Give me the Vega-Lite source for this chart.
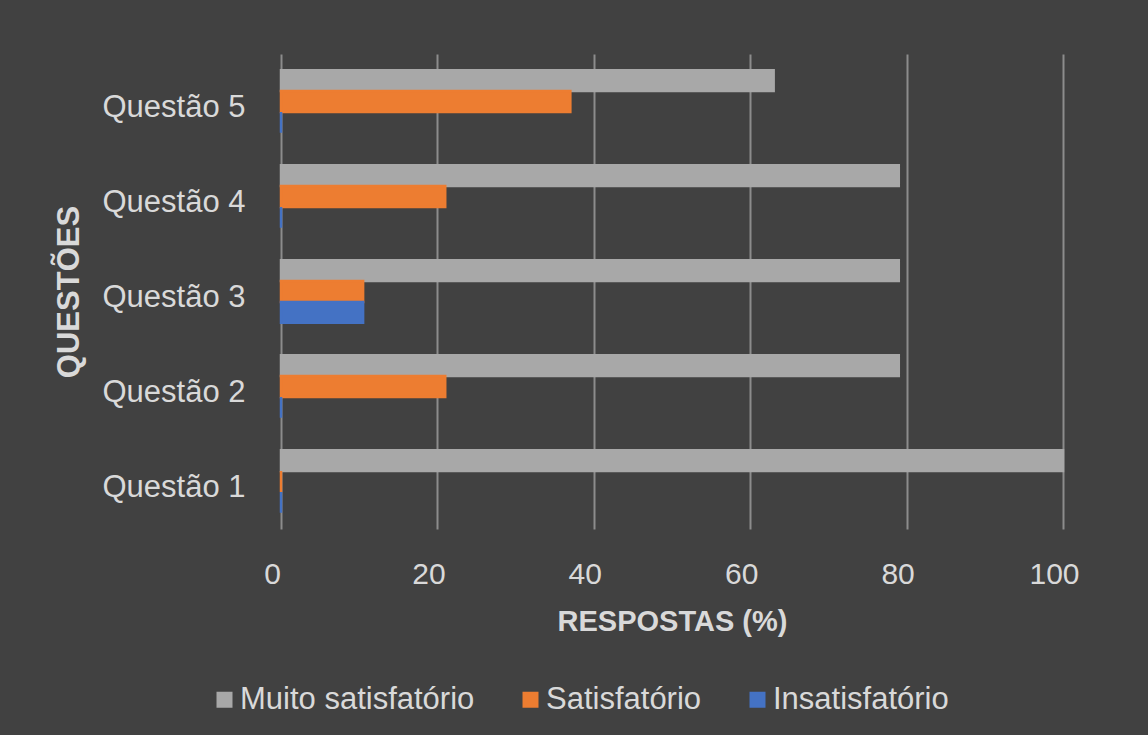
{
  "$schema": "https://vega.github.io/schema/vega-lite/v6.json",
  "autosize": "none",
  "width": 782,
  "height": 475,
  "padding": {"left": 281, "top": 54, "right": 85, "bottom": 206},
  "background": "#414141",
  "config": {
    "font": "Liberation Sans",
    "view": {"stroke": null},
    "axis": {"labelColor": "#d9d9d9", "titleColor": "#d9d9d9", "domain": false, "ticks": false}
  },
  "data": {
    "values": [
      {"q": "Questão 1", "nivel": "Muito satisfatório", "v": 100},
      {"q": "Questão 1", "nivel": "Satisfatório", "v": 0},
      {"q": "Questão 1", "nivel": "Insatisfatório", "v": 0},
      {"q": "Questão 2", "nivel": "Muito satisfatório", "v": 79},
      {"q": "Questão 2", "nivel": "Satisfatório", "v": 21},
      {"q": "Questão 2", "nivel": "Insatisfatório", "v": 0},
      {"q": "Questão 3", "nivel": "Muito satisfatório", "v": 79},
      {"q": "Questão 3", "nivel": "Satisfatório", "v": 10.5},
      {"q": "Questão 3", "nivel": "Insatisfatório", "v": 10.5},
      {"q": "Questão 4", "nivel": "Muito satisfatório", "v": 79},
      {"q": "Questão 4", "nivel": "Satisfatório", "v": 21},
      {"q": "Questão 4", "nivel": "Insatisfatório", "v": 0},
      {"q": "Questão 5", "nivel": "Muito satisfatório", "v": 63},
      {"q": "Questão 5", "nivel": "Satisfatório", "v": 37},
      {"q": "Questão 5", "nivel": "Insatisfatório", "v": 0}
    ]
  },
  "mark": {"type": "bar", "strokeWidth": 2.5},
  "encoding": {
    "y": {
      "field": "q", "type": "nominal", "sort": "descending",
      "scale": {"paddingInner": 0.34, "paddingOuter": 0.17},
      "axis": {"title": "QUESTÕES", "titleFontSize": 31, "titleFontWeight": "bold", "titlePadding": 16, "labelFontSize": 31, "labelPadding": 36, "labelOffset": 6, "grid": false}
    },
    "yOffset": {
      "field": "nivel", "type": "nominal",
      "sort": ["Muito satisfatório", "Satisfatório", "Insatisfatório"],
      "scale": {"paddingInner": 0, "paddingOuter": 0}
    },
    "x": {
      "field": "v", "type": "quantitative",
      "scale": {"domain": [0, 100], "nice": false},
      "axis": {"title": "RESPOSTAS (%)", "titleFontSize": 29, "titleFontWeight": "bold", "titlePadding": 18, "labelFontSize": 30, "labelPadding": 30, "labelOffset": -9, "labelFlush": false, "values": [0, 20, 40, 60, 80, 100], "grid": true, "gridColor": "#8c8c8c", "gridWidth": 2}
    },
    "color": {
      "field": "nivel", "type": "nominal",
      "sort": ["Muito satisfatório", "Satisfatório", "Insatisfatório"],
      "scale": {"domain": ["Muito satisfatório", "Satisfatório", "Insatisfatório"], "range": ["#a8a8a8", "#ed7d31", "#4472c4"]},
      "legend": {"title": null, "orient": "none", "direction": "horizontal", "legendX": -72, "legendY": 630, "symbolType": "square", "symbolSize": 256, "symbolStrokeWidth": 0, "labelFontSize": 31, "labelColor": "#d9d9d9", "labelOffset": 0, "columnPadding": 40, "padding": 0, "labelLimit": 400}
    },
    "stroke": {
      "field": "nivel", "type": "nominal",
      "scale": {"domain": ["Muito satisfatório", "Satisfatório", "Insatisfatório"], "range": ["#a8a8a8", "#ed7d31", "#4472c4"]},
      "legend": null
    }
  }
}
